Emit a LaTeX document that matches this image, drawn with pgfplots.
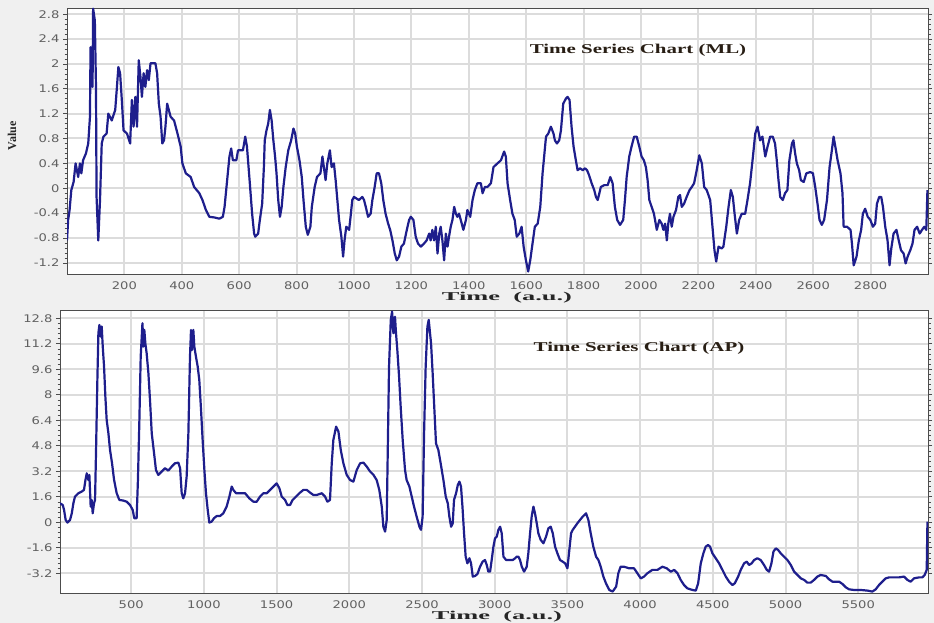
\documentclass[border=0pt]{standalone}
\usepackage{pgfplots}
\pgfplotsset{compat=1.18}
\usepackage{fontspec}
\setmainfont{Liberation Serif}
\newfontfamily\tickfont[FakeStretch=1.25]{DejaVu Sans}
\newfontfamily\titlefont[FakeStretch=1.55]{Liberation Serif}
\newfontfamily\labfont[FakeStretch=2.2]{Liberation Serif}
\definecolor{navy}{RGB}{30,30,140}
\definecolor{bg}{RGB}{240,240,240}
\definecolor{gridc}{RGB}{220,220,220}
\definecolor{ttl}{RGB}{40,30,20}
\pgfplotsset{mystyle/.style={
  scale only axis, anchor=south west,
  axis background/.style={fill=white},
  grid=major, major grid style={gridc, line width=2bp},
  axis line style={draw=gray!60!black, line width=0.8bp},
  tick align=outside,
  every tick/.style={gray!60!black, line width=0.6bp},
  major tick length=4bp, minor tick length=2.5bp,
  minor y tick num=4,
  xtick style={/pgfplots/major tick length=0pt},
  ticklabel style={font=\tickfont\fontsize{10.5bp}{12bp}\selectfont, text=gray!75!black},
  /pgf/number format/assume math mode=true,
  /pgf/number format/1000 sep={},
  scaled ticks=false,
}}
\tikzset{ser/.style={navy, no marks, line width=2.2bp, line join=round}}
\begin{document}
\begin{tikzpicture}[x=1bp,y=1bp]
\fill[bg] (0,0) rectangle (934,623);
% ---------------- top panel (ML)
\begin{axis}[mystyle, at={(67bp,349bp)}, width=861bp, height=266bp,
  xmin=0, xmax=3000, ymin=-1.38, ymax=2.9,
  xtick={200,400,...,2800},
  ytick={-1.2,-0.8,-0.4,0,0.4,0.8,1.2,1.6,2,2.4,2.8}]
\addplot[ser] coordinates {
(0,-0.84)(4,-0.51)(9,-0.35)(15,-0.03)(23,0.10)(30,0.40)(39,0.18)(45,0.40)(50,0.24)(56,0.45)
(66,0.56)(74,0.72)(80,1.15)(82,2.27)(89,1.63)(91,2.89)(97,2.70)(101,1.63)(103,-0.14)(109,-0.84)
(115,-0.19)(121,0.72)(127,0.83)(138,0.88)(144,1.20)(156,1.09)(168,1.26)(174,1.63)(179,1.95)(185,1.85)
(191,1.42)(197,0.93)(209,0.88)(220,0.72)(226,1.42)(232,0.99)(238,1.47)(244,0.99)(250,2.06)(256,1.79)
(261,1.47)(267,1.85)(273,1.63)(279,1.90)(285,1.74)(291,2.01)(308,2.01)(314,1.85)(320,1.36)(326,1.15)
(332,0.72)(338,0.77)(343,0.99)(349,1.36)(361,1.15)(373,1.09)(385,0.88)(396,0.67)(402,0.40)(414,0.24)
(431,0.18)(443,0.02)(461,-0.08)(472,-0.19)(484,-0.35)(496,-0.46)(513,-0.47)(531,-0.49)(543,-0.46)(549,-0.30)
(558,0.13)(566,0.51)(572,0.64)(578,0.45)(590,0.45)(596,0.61)(613,0.61)(621,0.83)(627,0.67)(637,0.08)
(645,-0.41)(652,-0.73)(656,-0.78)(666,-0.73)(672,-0.51)(680,-0.25)(686,0.34)(689,0.77)(695,0.93)(701,1.04)
(707,1.26)(713,1.09)(719,0.77)(725,0.51)(730,0.24)(736,-0.19)(742,-0.46)(748,-0.30)(754,0.02)(762,0.34)
(771,0.61)(781,0.77)(789,0.96)(795,0.88)(801,0.67)(810,0.45)(818,0.18)(824,-0.19)(832,-0.62)(839,-0.75)
(848,-0.62)(853,-0.30)(863,0.02)(871,0.18)(883,0.24)(890,0.51)(895,0.34)(901,0.13)(907,0.40)(916,0.61)
(922,0.34)(930,0.40)(936,0.13)(942,-0.19)(948,-0.51)(956,-0.78)(962,-1.10)(967,-0.84)(973,-0.62)(983,-0.67)
(988,-0.46)(994,-0.19)(1000,-0.14)(1017,-0.19)(1029,-0.14)(1035,-0.19)(1041,-0.30)(1049,-0.46)(1058,-0.41)(1064,-0.19)
(1072,0.02)(1079,0.24)(1087,0.24)(1095,0.08)(1102,-0.19)(1110,-0.41)(1119,-0.57)(1126,-0.67)(1134,-0.84)(1142,-1.05)
(1149,-1.16)(1157,-1.10)(1165,-0.94)(1174,-0.89)(1184,-0.67)(1192,-0.51)(1198,-0.46)(1207,-0.51)(1215,-0.78)(1223,-0.89)
(1233,-0.94)(1244,-0.89)(1253,-0.84)(1262,-0.73)(1267,-0.84)(1273,-0.67)(1279,-0.84)(1285,-0.62)(1291,-1.05)(1297,-0.73)
(1302,-0.62)(1308,-0.84)(1314,-1.16)(1320,-0.73)(1326,-0.94)(1331,-0.78)(1337,-0.62)(1343,-0.51)(1349,-0.30)(1355,-0.41)
(1360,-0.46)(1366,-0.41)(1372,-0.51)(1381,-0.67)(1390,-0.51)(1395,-0.35)(1405,-0.46)(1413,-0.19)(1421,-0.03)(1430,0.08)
(1442,0.08)(1448,-0.08)(1456,0.02)(1465,0.02)(1477,0.08)(1486,0.34)(1500,0.40)(1512,0.45)(1523,0.59)(1529,0.51)
(1535,0.08)(1544,-0.19)(1552,-0.41)(1560,-0.51)(1567,-0.78)(1576,-0.73)(1584,-0.62)(1591,-0.94)(1599,-1.16)(1607,-1.34)
(1614,-1.16)(1622,-0.89)(1630,-0.62)(1640,-0.57)(1649,-0.30)(1657,0.24)(1669,0.83)(1677,0.88)(1686,0.99)(1695,0.88)
(1700,0.77)(1707,0.72)(1715,0.77)(1721,0.93)(1729,1.36)(1738,1.44)(1744,1.47)(1751,1.42)(1758,0.99)(1765,0.67)
(1773,0.45)(1779,0.29)(1788,0.32)(1797,0.29)(1805,0.32)(1812,0.29)(1819,0.21)(1828,0.08)(1837,-0.03)(1843,-0.14)
(1849,-0.19)(1855,-0.08)(1860,0.02)(1872,0.05)(1884,0.05)(1893,0.18)(1901,0.08)(1909,-0.30)(1917,-0.51)(1927,-0.59)
(1938,-0.51)(1944,-0.19)(1950,0.18)(1959,0.51)(1967,0.67)(1976,0.83)(1985,0.83)(1994,0.67)(2002,0.51)(2010,0.45)
(2017,0.34)(2023,0.13)(2029,-0.19)(2037,-0.30)(2045,-0.41)(2055,-0.67)(2064,-0.51)(2072,-0.57)(2078,-0.67)(2084,-0.57)
(2090,-0.84)(2095,-0.57)(2101,-0.41)(2107,-0.62)(2113,-0.46)(2122,-0.35)(2130,-0.14)(2136,-0.11)(2142,-0.30)(2150,-0.25)
(2159,-0.14)(2169,-0.03)(2177,0.02)(2185,0.08)(2194,0.29)(2203,0.53)(2212,0.40)(2220,0.02)(2229,-0.03)(2241,-0.19)
(2249,-0.62)(2256,-1.00)(2262,-1.18)(2270,-0.94)(2281,-0.97)(2287,-0.94)(2297,-0.62)(2305,-0.30)(2313,-0.03)(2320,-0.14)
(2326,-0.41)(2334,-0.73)(2342,-0.51)(2351,-0.41)(2363,-0.41)(2371,-0.19)(2380,0.08)(2390,0.51)(2398,0.88)(2406,0.99)
(2415,0.77)(2423,0.83)(2433,0.51)(2441,0.67)(2450,0.83)(2459,0.83)(2467,0.72)(2473,0.45)(2479,0.13)(2485,-0.14)
(2494,-0.19)(2502,-0.08)(2510,-0.03)(2517,0.45)(2526,0.72)(2531,0.77)(2537,0.56)(2543,0.40)(2551,0.29)(2557,0.13)
(2567,0.10)(2576,0.24)(2590,0.26)(2599,0.24)(2607,0.02)(2615,-0.25)(2622,-0.51)(2630,-0.59)(2638,-0.51)(2648,-0.19)
(2657,0.34)(2665,0.61)(2671,0.83)(2677,0.67)(2685,0.45)(2695,0.24)(2702,-0.08)(2706,-0.62)(2718,-0.62)(2730,-0.67)
(2735,-0.89)(2741,-1.24)(2751,-1.10)(2759,-0.84)(2767,-0.67)(2773,-0.41)(2781,-0.33)(2790,-0.46)(2799,-0.51)(2808,-0.62)
(2816,-0.57)(2822,-0.25)(2830,-0.14)(2837,-0.14)(2843,-0.30)(2851,-0.62)(2859,-0.84)(2866,-1.24)(2872,-0.97)(2880,-0.73)
(2890,-0.67)(2898,-0.84)(2906,-1.00)(2915,-1.05)(2922,-1.21)(2929,-1.10)(2938,-1.00)(2946,-0.89)(2953,-0.67)(2962,-0.62)
(2971,-0.73)(2979,-0.67)(2987,-0.62)(2994,-0.67)(2998,-0.03)};
\end{axis}
% ---------------- bottom panel (AP)
\begin{axis}[mystyle, at={(60bp,30bp)}, width=868bp, height=283bp,
  xmin=10, xmax=5980, ymin=-4.44, ymax=13.32,
  xtick={500,1000,...,5500},
  ytick={-3.2,-1.6,0,1.6,3.2,4.8,6.4,8,9.6,11.2,12.8}]
\addplot[ser] coordinates {
(10,1.19)(29,1.08)(38,0.77)(49,0.14)(61,-0.02)(79,0.14)(91,0.56)(102,1.19)(113,1.61)(136,1.82)
(159,1.92)(175,2.03)(185,2.65)(194,3.07)(205,2.65)(212,2.97)(221,0.98)(228,1.40)(235,0.56)(244,1.19)
(251,1.40)(258,4.54)(267,8.93)(274,11.86)(281,12.38)(290,11.65)(297,12.28)(304,11.02)(313,9.77)(322,7.88)
(331,6.42)(343,5.58)(354,4.54)(368,3.70)(382,2.65)(400,1.82)(418,1.40)(446,1.36)(469,1.29)(492,1.08)
(510,0.77)(521,0.25)(537,0.25)(546,2.65)(556,6.42)(565,10.39)(577,12.49)(584,11.02)(590,12.07)(597,11.23)
(606,10.60)(618,9.35)(629,7.67)(641,5.58)(657,4.33)(670,3.28)(686,2.97)(709,3.18)(732,3.39)(755,3.24)
(778,3.49)(801,3.70)(824,3.74)(836,3.39)(847,1.82)(858,1.50)(870,1.82)(881,2.86)(893,5.58)(904,10.39)
(911,12.07)(918,10.81)(927,12.07)(934,11.02)(945,10.39)(957,9.77)(968,8.93)(980,7.05)(991,5.16)(1003,3.28)
(1014,1.82)(1026,0.77)(1037,-0.02)(1053,0.04)(1069,0.25)(1088,0.39)(1111,0.39)(1133,0.56)(1156,0.98)(1175,1.61)
(1191,2.24)(1202,2.03)(1221,1.82)(1248,1.82)(1283,1.82)(1312,1.50)(1340,1.29)(1363,1.29)(1386,1.61)(1409,1.82)
(1432,1.82)(1455,2.03)(1478,2.24)(1500,2.44)(1519,2.13)(1535,1.61)(1558,1.40)(1574,1.08)(1592,1.08)(1610,1.40)
(1633,1.61)(1656,1.82)(1684,2.03)(1707,2.03)(1730,1.86)(1753,1.71)(1776,1.71)(1810,1.82)(1833,1.61)(1849,1.29)
(1867,1.40)(1879,3.70)(1890,5.16)(1909,6.00)(1925,5.69)(1941,4.54)(1959,3.70)(1982,2.97)(2005,2.65)(2028,2.55)
(2051,3.28)(2074,3.70)(2097,3.74)(2120,3.49)(2143,3.18)(2166,2.97)(2188,2.65)(2206,2.03)(2223,0.98)(2234,-0.28)
(2246,-0.59)(2257,0.14)(2264,4.33)(2273,9.77)(2285,12.70)(2294,13.22)(2303,11.86)(2314,12.90)(2321,11.86)(2330,10.81)
(2342,9.14)(2353,7.26)(2367,5.16)(2383,3.28)(2394,2.65)(2413,2.24)(2429,1.61)(2445,0.98)(2463,0.35)(2482,-0.28)
(2493,-0.48)(2504,0.35)(2514,5.58)(2525,9.77)(2537,12.28)(2546,12.70)(2555,11.86)(2562,11.23)(2573,9.35)(2585,7.05)
(2596,4.95)(2612,4.54)(2628,3.70)(2647,2.65)(2663,1.61)(2677,1.19)(2688,0.35)(2700,-0.28)(2711,-0.07)(2720,1.40)
(2734,1.82)(2746,2.34)(2757,2.55)(2768,2.24)(2778,0.98)(2789,-0.69)(2800,-2.16)(2812,-2.58)(2826,-2.26)(2837,-2.58)
(2849,-3.41)(2865,-3.37)(2881,-3.25)(2899,-2.79)(2917,-2.47)(2933,-2.37)(2945,-2.68)(2956,-3.10)(2968,-3.10)(2979,-2.37)
(2991,-1.53)(3002,-1.01)(3014,-0.90)(3025,-0.48)(3037,-0.28)(3048,-0.69)(3060,-2.16)(3078,-2.37)(3101,-2.37)(3124,-2.37)
(3140,-2.26)(3151,-2.16)(3163,-2.16)(3174,-2.37)(3186,-2.79)(3202,-3.10)(3220,-2.79)(3231,-1.95)(3243,-0.69)(3254,0.35)
(3266,0.98)(3277,0.56)(3289,-0.07)(3300,-0.69)(3316,-1.11)(3335,-1.32)(3353,-0.90)(3369,-0.38)(3385,-0.28)(3399,-0.69)
(3415,-1.53)(3431,-1.95)(3449,-2.37)(3467,-2.47)(3484,-2.58)(3500,-2.89)(3513,-1.74)(3525,-0.69)(3536,-0.48)(3552,-0.28)
(3568,-0.07)(3586,0.14)(3605,0.35)(3628,0.56)(3644,0.14)(3660,-0.69)(3678,-1.53)(3697,-2.16)(3713,-2.37)(3729,-2.79)
(3747,-3.41)(3765,-3.83)(3788,-4.25)(3811,-4.35)(3835,-4.04)(3850,-3.20)(3858,-2.99)(3866,-2.79)(3889,-2.79)(3924,-2.89)
(3958,-2.89)(3981,-3.20)(4004,-3.52)(4027,-3.41)(4050,-3.20)(4084,-2.99)(4119,-2.99)(4153,-2.79)(4183,-2.89)(4211,-3.10)
(4234,-2.99)(4257,-3.20)(4279,-3.62)(4302,-3.94)(4325,-4.15)(4360,-4.25)(4383,-4.29)(4399,-3.83)(4417,-2.58)(4435,-1.95)
(4451,-1.53)(4467,-1.43)(4481,-1.53)(4497,-1.95)(4520,-2.26)(4543,-2.58)(4566,-2.99)(4589,-3.41)(4612,-3.73)(4635,-3.94)
(4651,-3.83)(4674,-3.41)(4692,-2.99)(4715,-2.58)(4733,-2.47)(4749,-2.68)(4767,-2.58)(4784,-2.37)(4806,-2.26)(4829,-2.37)
(4852,-2.68)(4871,-2.99)(4887,-3.10)(4903,-2.58)(4917,-1.84)(4933,-1.64)(4949,-1.74)(4967,-1.95)(4990,-2.16)(5013,-2.37)
(5036,-2.68)(5059,-3.10)(5082,-3.31)(5105,-3.52)(5128,-3.62)(5150,-3.79)(5173,-3.79)(5196,-3.62)(5219,-3.41)(5242,-3.31)
(5277,-3.37)(5299,-3.58)(5323,-3.73)(5345,-3.73)(5368,-3.73)(5391,-3.87)(5414,-4.08)(5437,-4.21)(5471,-4.25)(5517,-4.25)
(5563,-4.29)(5597,-4.35)(5620,-4.21)(5643,-3.94)(5666,-3.73)(5689,-3.52)(5712,-3.46)(5746,-3.46)(5781,-3.46)(5815,-3.41)
(5838,-3.62)(5861,-3.73)(5884,-3.52)(5918,-3.46)(5941,-3.46)(5957,-3.31)(5971,-2.99)(5976,0.04)};
\end{axis}
% ---------------- titles and labels
\node[anchor=base, text=ttl, font=\titlefont\bfseries\fontsize{13.5bp}{15bp}\selectfont] at (638,569) {Time Series Chart (ML)};
\node[anchor=base, text=ttl, font=\titlefont\bfseries\fontsize{13.5bp}{15bp}\selectfont] at (639,271) {Time Series Chart (AP)};
\node[anchor=base, text=black!85, font=\labfont\bfseries\fontsize{12bp}{14bp}\selectfont] at (507,322) {Time\ \ (a.u.)};
\node[anchor=base, text=black!85, font=\labfont\bfseries\fontsize{12bp}{14bp}\selectfont] at (497,3) {Time\ \ (a.u.)};
\node[rotate=90, text=black!85, font=\bfseries\fontsize{12bp}{14bp}\selectfont] at (12,487) {Value};
\pgfresetboundingbox
\useasboundingbox (0,0) rectangle (934,623);
\end{tikzpicture}
\end{document}
